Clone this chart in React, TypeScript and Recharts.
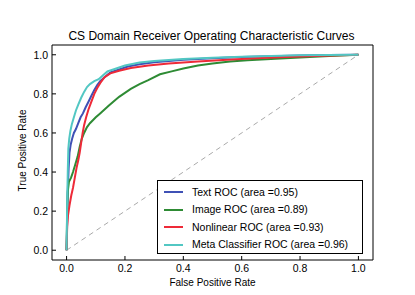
import React from 'react';
import { LineChart, Line, XAxis, YAxis, Legend } from 'recharts';

const FONT = '"Liberation Sans", Arial, sans-serif';

const chartTitle = 'CS Domain Receiver Operating Characteristic Curves';
const xLabel = 'False Positive Rate';
const yLabel = 'True Positive Rate';
const axisTicks = [0, 0.2, 0.4, 0.6, 0.8, 1.0];

const seriesNames = [
  'Text ROC (area =0.95)',
  'Image ROC (area =0.89)',
  'Nonlinear ROC (area =0.93)',
  'Meta Classifier ROC (area =0.96)',
];
const seriesColors = ['#3f51b5', '#2e8b34', '#ee2a38', '#52c7c3'];

const textFpr = [0, 0.002, 0.004, 0.007, 0.01, 0.014, 0.019, 0.025, 0.032, 0.04, 0.048, 0.056, 0.065, 0.075, 0.085, 0.095, 0.105, 0.115, 0.13, 0.15, 0.18, 0.21, 0.25, 0.3, 0.4, 0.5, 0.6, 0.7, 0.8, 0.9, 1.0];
const textTpr = [0, 0.15, 0.3, 0.42, 0.5, 0.54, 0.57, 0.6, 0.62, 0.65, 0.68, 0.7, 0.73, 0.76, 0.79, 0.82, 0.845, 0.865, 0.885, 0.91, 0.925, 0.94, 0.952, 0.962, 0.974, 0.982, 0.988, 0.993, 0.996, 0.999, 1.0];

const imageFpr = [0, 0.002, 0.004, 0.008, 0.015, 0.022, 0.03, 0.038, 0.045, 0.052, 0.06, 0.07, 0.08, 0.09, 0.1, 0.115, 0.13, 0.145, 0.16, 0.18, 0.2, 0.22, 0.25, 0.28, 0.32, 0.36, 0.4, 0.45, 0.5, 0.56, 0.62, 0.7, 0.8, 0.9, 1.0];
const imageTpr = [0, 0.2, 0.3, 0.35, 0.37, 0.4, 0.44, 0.48, 0.53, 0.57, 0.6, 0.63, 0.65, 0.665, 0.68, 0.7, 0.72, 0.74, 0.76, 0.785, 0.805, 0.825, 0.85, 0.87, 0.9, 0.915, 0.93, 0.945, 0.955, 0.965, 0.972, 0.978, 0.986, 0.994, 1.0];

const nonlinFpr = [0, 0.002, 0.005, 0.01, 0.016, 0.022, 0.028, 0.034, 0.04, 0.045, 0.05, 0.055, 0.06, 0.067, 0.075, 0.085, 0.095, 0.105, 0.115, 0.13, 0.15, 0.18, 0.22, 0.28, 0.35, 0.45, 0.55, 0.65, 0.75, 0.85, 1.0];
const nonlinTpr = [0, 0.12, 0.18, 0.23, 0.28, 0.32, 0.37, 0.42, 0.46, 0.5, 0.55, 0.6, 0.64, 0.68, 0.72, 0.76, 0.8, 0.83, 0.855, 0.885, 0.905, 0.918, 0.932, 0.945, 0.955, 0.965, 0.974, 0.982, 0.988, 0.994, 1.0];

const metaFpr = [0, 0.002, 0.004, 0.006, 0.009, 0.013, 0.018, 0.025, 0.032, 0.04, 0.05, 0.06, 0.07, 0.08, 0.095, 0.11, 0.125, 0.14, 0.17, 0.2, 0.25, 0.3, 0.4, 0.5, 0.6, 0.7, 0.8, 0.9, 1.0];
const metaTpr = [0, 0.24, 0.4, 0.52, 0.57, 0.61, 0.645, 0.68, 0.715, 0.745, 0.78, 0.81, 0.835, 0.85, 0.865, 0.875, 0.895, 0.915, 0.93, 0.945, 0.96, 0.968, 0.978, 0.985, 0.99, 0.994, 0.997, 0.999, 1.0];

const chanceFpr = [0, 1];
const chanceTpr = [0, 1];

const zip = (f: number[], t: number[]) => f.map((v, i) => ({ fpr: v, tpr: t[i] }));

const seriesData = [
  zip(textFpr, textTpr),
  zip(imageFpr, imageTpr),
  zip(nonlinFpr, nonlinTpr),
  zip(metaFpr, metaTpr),
];
const chanceData = zip(chanceFpr, chanceTpr);

const domain: [number, number] = [-0.05, 1.05];
const fmt = (v: number) => v.toFixed(1);
const tickStyle = { fontSize: 10.5, fill: '#000', fontFamily: FONT };

const renderLegend = (props: any) => {
  const items = (props.payload || [])
    .filter((p: any) => p.type !== 'none' && seriesNames.includes(p.value))
    .sort((a: any, b: any) => seriesNames.indexOf(a.value) - seriesNames.indexOf(b.value));
  return (
    <div
      style={{
        boxSizing: 'border-box',
        width: 206,
        height: 74,
        border: '1px solid #000',
        background: '#fff',
        padding: '2.25px 0 0 6px',
        fontFamily: FONT,
        fontSize: 10.5,
        color: '#000',
        lineHeight: 1,
      }}
    >
      {items.map((p: any) => (
        <div key={p.value} style={{ display: 'flex', alignItems: 'center', height: 17.5 }}>
          <span style={{ display: 'inline-block', width: 19, height: 2, background: p.color, marginRight: 9 }} />
          <span>{p.value}</span>
        </div>
      ))}
    </div>
  );
};

const renderYLabel = (props: any) => {
  const vb = props.viewBox || { x: 12, y: 45, width: 40, height: 215 };
  const x = vb.x + 14;
  const y = vb.y + vb.height / 2 - 2;
  return (
    <text x={x} y={y} transform={`rotate(-90 ${x} ${y})`} textAnchor="middle" fontSize={10} fontFamily={FONT} fill="#000">
      {yLabel}
    </text>
  );
};

const renderXLabel = (props: any) => {
  const vb = props.viewBox || { x: 52, y: 260, width: 321, height: 30 };
  const x = vb.x + vb.width / 2;
  const y = vb.y + 26;
  return (
    <text x={x} y={y} textAnchor="middle" fontSize={10} fontFamily={FONT} fill="#000">
      {xLabel}
    </text>
  );
};

const renderTitle = (props: any) => {
  const vb = props.viewBox || { x: 52, y: 43, width: 321, height: 2 };
  const x = vb.x + vb.width / 2 - 1;
  const y = vb.y - 3;
  return (
    <text x={x} y={y} textAnchor="middle" fontSize={12} fontFamily={FONT} fill="#000">
      {chartTitle}
    </text>
  );
};

export default function App() {
  return (
    <div style={{ position: 'absolute', left: 0, top: 0, width: 415, height: 295, background: '#fff' }}>
      <LineChart width={415} height={295} margin={{ top: 43, right: 40, bottom: 5, left: 12 }}>
        <XAxis
          xAxisId="bottom"
          type="number"
          dataKey="fpr"
          domain={domain}
          ticks={axisTicks}
          tickFormatter={fmt}
          allowDataOverflow
          height={30}
          tickSize={-4}
          tickMargin={8.5}
          tick={tickStyle}
          axisLine={{ stroke: '#000' }}
          tickLine={{ stroke: '#000' }}
          label={{ content: renderXLabel }}
        />
        <XAxis
          xAxisId="top"
          orientation="top"
          type="number"
          dataKey="fpr"
          domain={domain}
          ticks={axisTicks}
          allowDataOverflow
          height={2}
          tickSize={-4}
          tick={false}
          axisLine={{ stroke: '#000' }}
          tickLine={{ stroke: '#000' }}
          label={{ content: renderTitle }}
        />
        <YAxis
          yAxisId="left"
          type="number"
          domain={domain}
          ticks={axisTicks}
          tickFormatter={fmt}
          allowDataOverflow
          width={40}
          tickSize={-4}
          tickMargin={8}
          tick={tickStyle}
          axisLine={{ stroke: '#000' }}
          tickLine={{ stroke: '#000' }}
          label={{ content: renderYLabel }}
        />
        <YAxis
          yAxisId="right"
          orientation="right"
          type="number"
          domain={domain}
          ticks={axisTicks}
          allowDataOverflow
          width={2}
          tickSize={-4}
          tick={false}
          axisLine={{ stroke: '#000' }}
          tickLine={{ stroke: '#000' }}
        />
        <Line
          xAxisId="bottom"
          yAxisId="left"
          data={chanceData}
          dataKey="tpr"
          type="linear"
          stroke="#aaaaaa"
          strokeWidth={1}
          strokeDasharray="5 4"
          dot={false}
          legendType="none"
          isAnimationActive={false}
        />
        {seriesData.map((d, i) => (
          <Line
            key={seriesNames[i]}
            xAxisId="bottom"
            yAxisId="left"
            data={d}
            dataKey="tpr"
            name={seriesNames[i]}
            type="linear"
            stroke={seriesColors[i]}
            strokeWidth={2}
            dot={false}
            isAnimationActive={false}
          />
        ))}
        <Legend
          layout="vertical"
          align="center"
          verticalAlign="middle"
          content={renderLegend}
          wrapperStyle={{ left: 157, top: 180, width: 206, height: 74 }}
        />
      </LineChart>
    </div>
  );
}
